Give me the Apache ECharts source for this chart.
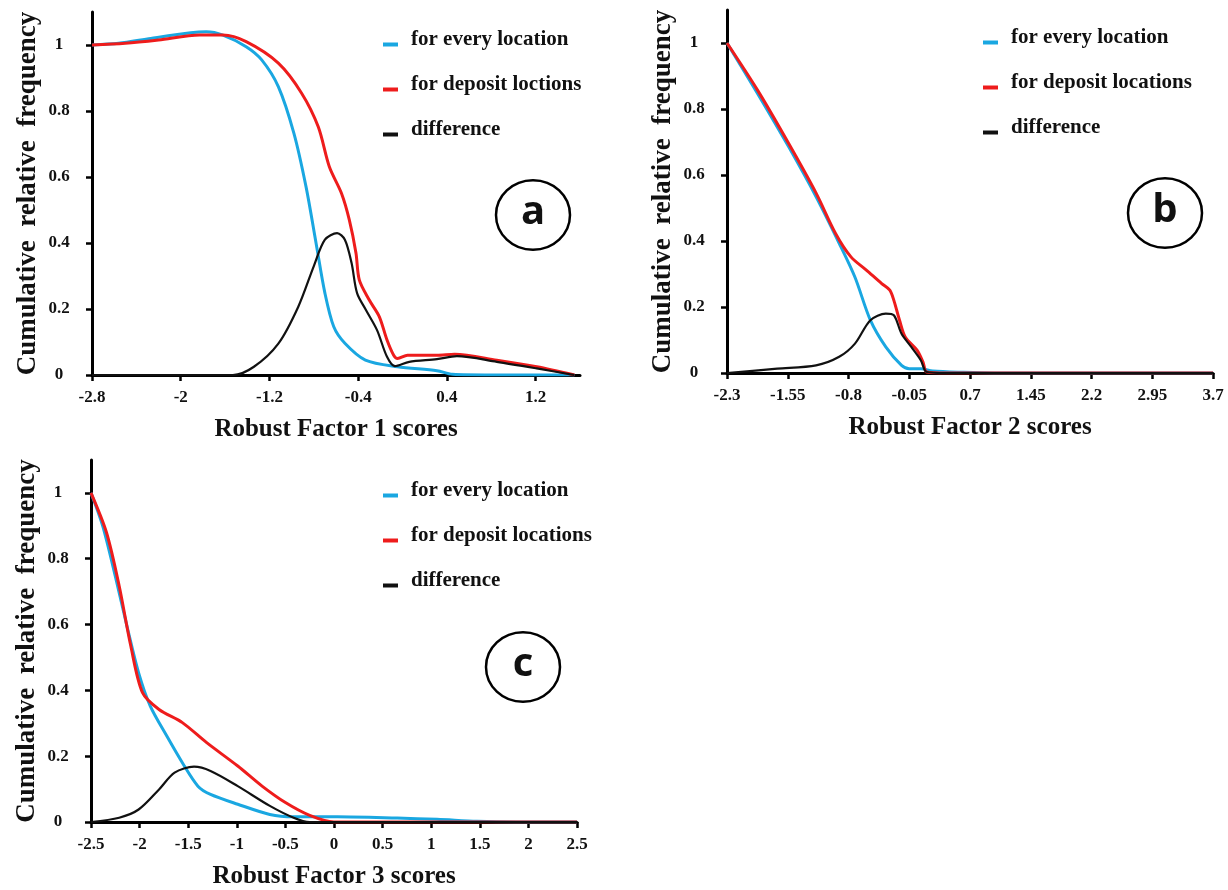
<!DOCTYPE html>
<html>
<head>
<meta charset="utf-8">
<script src="https://cdn.jsdelivr.net/npm/echarts@6/dist/echarts.min.js"></script>
<style>
  html, body { margin: 0; padding: 0; background: #fff; }
  #main { width: 1228px; height: 890px; }
</style>
</head>
<body>
<div id="main"></div>
<script>
// tick labels
var yTicks = [0, 0.2, 0.4, 0.6, 0.8, 1];
var aTicksX = [-2.8, -2, -1.2, -0.4, 0.4, 1.2];
var bTicksX = [-2.3, -1.55, -0.8, -0.05, 0.7, 1.45, 2.2, 2.95, 3.7];
var cTicksX = [-2.5, -2, -1.5, -1, -0.5, 0, 0.5, 1, 1.5, 2, 2.5];

// series names
var nameEvery = 'for every location';
var nameDepositA = 'for deposit loctions';
var nameDeposit = 'for deposit locations';
var nameDiff = 'difference';

// panel a  [score, cumulative relative frequency]
var aEvery = [[-2.8,1.0],[-2.56,1.005],[-2.27,1.02],[-1.91,1.037],[-1.77,1.04],[-1.62,1.03],[-1.41,0.995],[-1.27,0.955],[-1.12,0.874],[-0.98,0.733],[-0.87,0.57],[-0.78,0.40],[-0.70,0.248],[-0.62,0.146],[-0.52,0.096],[-0.335,0.045],[-0.045,0.025],[0.31,0.013],[0.45,0.002],[0.8,0],[1.55,0]];
var aDeposit = [[-2.8,1.0],[-2.5,1.005],[-2.2,1.015],[-1.83,1.03],[-1.62,1.03],[-1.41,1.01],[-1.12,0.945],[-0.91,0.854],[-0.76,0.752],[-0.66,0.631],[-0.55,0.55],[-0.48,0.47],[-0.42,0.37],[-0.39,0.288],[-0.30,0.227],[-0.21,0.177],[-0.14,0.106],[-0.08,0.06],[-0.045,0.05],[0.045,0.06],[0.31,0.06],[0.47,0.063],[0.85,0.045],[1.21,0.025],[1.55,0]];
var aDiff = [[-2.8,0],[-1.53,0],[-1.34,0.025],[-1.12,0.095],[-0.94,0.207],[-0.80,0.33],[-0.70,0.41],[-0.59,0.43],[-0.52,0.41],[-0.46,0.34],[-0.41,0.248],[-0.33,0.197],[-0.23,0.136],[-0.14,0.055],[-0.07,0.027],[0.06,0.04],[0.31,0.048],[0.49,0.057],[0.85,0.04],[1.21,0.02],[1.55,0]];

// panel b
var bEvery = [[-2.3,1.0],[-1.925,0.848],[-1.54,0.686],[-1.2,0.534],[-0.915,0.393],[-0.72,0.29],[-0.53,0.16],[-0.34,0.079],[-0.145,0.023],[-0.05,0.013],[0.094,0.013],[0.24,0.006],[0.62,0.002],[1.0,0],[3.7,0]];
var bDeposit = [[-2.3,1.0],[-1.925,0.858],[-1.54,0.696],[-1.2,0.545],[-0.96,0.423],[-0.77,0.352],[-0.58,0.312],[-0.39,0.271],[-0.29,0.251],[-0.24,0.22],[-0.17,0.16],[-0.10,0.109],[0.046,0.069],[0.12,0.033],[0.166,0.003],[0.4,0],[3.7,0]];
var bDiff = [[-2.3,0],[-1.68,0.013],[-1.2,0.023],[-0.915,0.049],[-0.72,0.089],[-0.53,0.16],[-0.34,0.18],[-0.24,0.175],[-0.145,0.119],[-0.025,0.079],[0.094,0.038],[0.166,0.003],[0.4,0],[3.7,0]];

// panel c
var cEvery = [[-2.5,1.0],[-2.38,0.90],[-2.25,0.747],[-2.13,0.595],[-2.01,0.453],[-1.89,0.352],[-1.72,0.261],[-1.56,0.18],[-1.40,0.109],[-1.27,0.084],[-0.99,0.054],[-0.66,0.023],[-0.415,0.016],[0.035,0.016],[0.65,0.012],[1.06,0.008],[1.47,0.002],[1.87,0],[2.5,0]];
var cDeposit = [[-2.5,1.0],[-2.34,0.879],[-2.21,0.717],[-2.09,0.534],[-1.97,0.393],[-1.80,0.342],[-1.56,0.302],[-1.31,0.241],[-0.99,0.17],[-0.74,0.109],[-0.50,0.059],[-0.25,0.02],[0.0,0],[2.5,0]];
var cDiff = [[-2.5,0],[-2.21,0.013],[-2.01,0.038],[-1.80,0.099],[-1.64,0.15],[-1.44,0.168],[-1.27,0.155],[-0.99,0.109],[-0.66,0.049],[-0.415,0.013],[-0.25,0],[2.5,0]];

var BLUE = '#1aa7e1';
var RED = '#ee1c1c';
var BLACK = '#111111';
var SERIF = '"Liberation Serif", "Times New Roman", serif';

var panels = [
  { grid: { left: 92, top: 12, width: 488, height: 363 }, xMin: -2.8, xMax: 1.6, ticks: aTicksX,
    xName: 'Robust Factor 1 scores', depositName: nameDepositA, every: aEvery, deposit: aDeposit, diff: aDiff,
    legend: { left: 378, top: 24 }, tag: 'a', tagPos: [533, 215] },
  { grid: { left: 727, top: 10, width: 486, height: 363 }, xMin: -2.3, xMax: 3.7, ticks: bTicksX,
    xName: 'Robust Factor 2 scores', depositName: nameDeposit, every: bEvery, deposit: bDeposit, diff: bDiff,
    legend: { left: 978, top: 22 }, tag: 'b', tagPos: [1165, 213] },
  { grid: { left: 91, top: 460, width: 486, height: 363 }, xMin: -2.5, xMax: 2.5, ticks: cTicksX,
    xName: 'Robust Factor 3 scores', depositName: nameDeposit, every: cEvery, deposit: cDeposit, diff: cDiff,
    legend: { left: 378, top: 475 }, tag: 'c', tagPos: [523, 667] }
];

var legendIcon = 'path://M0,0 M0,10 L15,10 L15,14 L0,14 Z';

var option = {
  animation: false,
  backgroundColor: '#ffffff',
  grid: [], xAxis: [], yAxis: [], series: [], legend: [], graphic: []
};

panels.forEach(function (p, i) {
  option.grid.push(p.grid);
  option.xAxis.push({
    type: 'value', gridIndex: i, min: p.xMin, max: p.xMax,
    name: p.xName, nameLocation: 'middle', nameGap: 42,
    nameTextStyle: { fontFamily: SERIF, fontWeight: 'bold', fontSize: 25, color: '#111' },
    axisLine: { onZero: false, lineStyle: { color: '#000', width: 3 } },
    axisTick: { length: 6, lineStyle: { color: '#000', width: 2.5 }, customValues: p.ticks },
    axisLabel: { customValues: p.ticks, margin: 14, fontFamily: SERIF, fontWeight: 'bold', fontSize: 17, color: '#111' },
    splitLine: { show: false }
  });
  option.yAxis.push({
    type: 'value', gridIndex: i, min: 0, max: 1.1,
    name: 'Cumulative  relative  frequency', nameLocation: 'middle', nameGap: 50, nameRotate: 90,
    nameTextStyle: { fontFamily: SERIF, fontWeight: 'bold', fontSize: 27, color: '#111' },
    axisLine: { onZero: false, lineStyle: { color: '#000', width: 3 } },
    axisTick: { length: 6, lineStyle: { color: '#000', width: 2.5 }, customValues: yTicks },
    axisLabel: { customValues: yTicks, margin: 33, align: 'center', fontFamily: SERIF, fontWeight: 'bold', fontSize: 17, color: '#111' },
    splitLine: { show: false }
  });
  var common = { type: 'line', xAxisIndex: i, yAxisIndex: i, smooth: 0.3, showSymbol: false, symbol: 'none' };
  option.series.push(Object.assign({}, common, { name: nameEvery, data: p.every, color: BLUE, lineStyle: { width: 3, color: BLUE }, z: 2 }));
  option.series.push(Object.assign({}, common, { name: p.depositName, data: p.deposit, color: RED, lineStyle: { width: 3, color: RED }, z: 3 }));
  option.series.push(Object.assign({}, common, { name: nameDiff, data: p.diff, color: BLACK, lineStyle: { width: 2.2, color: BLACK }, z: 4 }));
  option.legend.push({
    data: [nameEvery, p.depositName, nameDiff],
    orient: 'vertical', left: p.legend.left, top: p.legend.top,
    icon: legendIcon, itemWidth: 15, itemHeight: 14, itemGap: 24,
    textStyle: { fontFamily: SERIF, fontWeight: 'bold', fontSize: 21, color: '#111', padding: [0, 0, 0, 8] }
  });
  option.graphic.push({
    type: 'circle', shape: { cx: p.tagPos[0], cy: p.tagPos[1], r: 37 }, scaleY: 0.94,
    originX: p.tagPos[0], originY: p.tagPos[1],
    style: { fill: 'none', stroke: '#000', lineWidth: 2.5 }, silent: true
  });
  option.graphic.push({
    type: 'text', x: p.tagPos[0], y: p.tagPos[1] - 2,
    style: { text: p.tag, font: 'bold 40px "Open Sans", "DejaVu Sans", sans-serif', fill: '#111', align: 'center', verticalAlign: 'middle' },
    silent: true
  });
});

var chart = echarts.init(document.getElementById('main'));
chart.setOption(option);
</script>
</body>
</html>
